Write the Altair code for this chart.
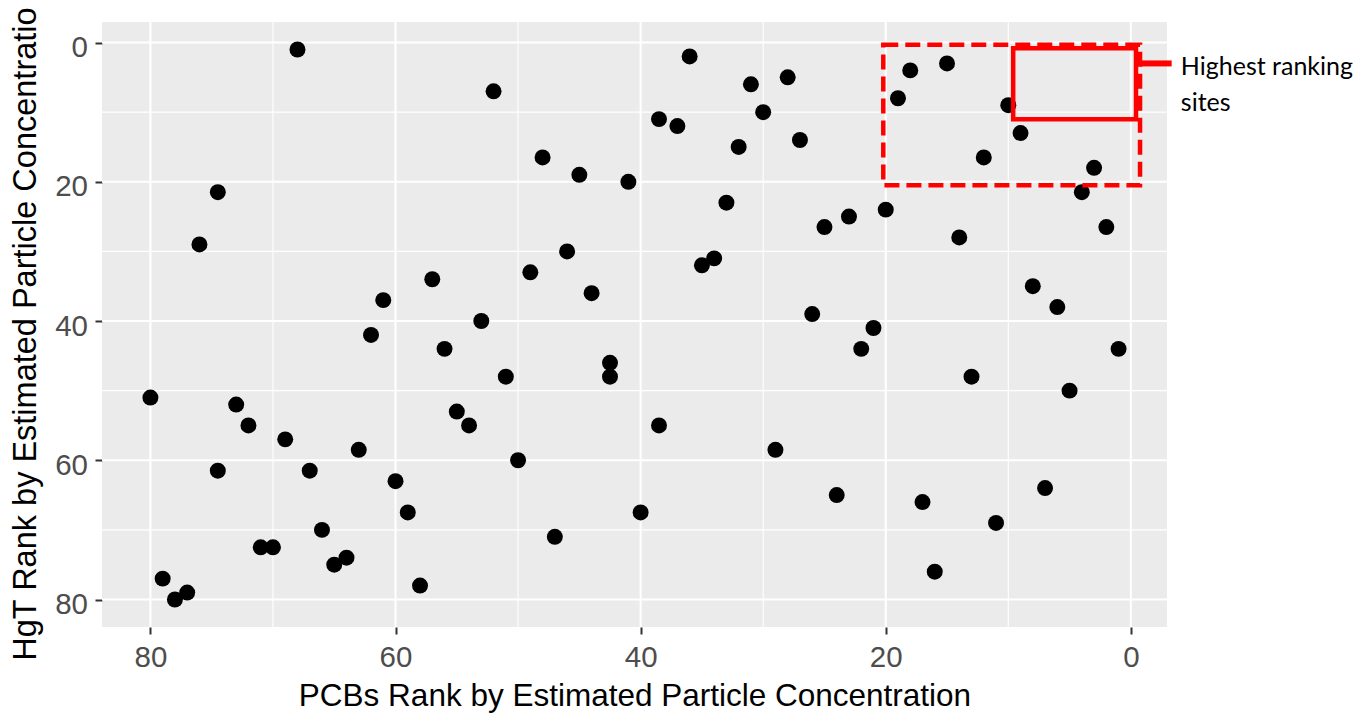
import altair as alt
import pandas as pd

# ---- data ----
PCB_RANK = [80, 79, 78, 77, 76, 74.5, 74.5, 73, 72, 71, 70, 69, 68, 67, 66, 65, 64, 63, 62, 61,
            60, 59, 58, 57, 56, 55, 54, 53, 52, 51, 50, 49, 48, 47, 46, 45, 44, 42.5, 42.5, 41,
            40, 38.5, 38.5, 37, 36, 35, 34, 33, 32, 31, 30, 29, 28, 27, 26, 25, 24, 23, 22, 21,
            20, 19, 18, 17, 16, 15, 14, 13, 12, 11, 10, 9, 8, 7, 6, 5, 4, 3, 2, 1]
HGT_RANK = [51, 77, 80, 79, 29, 21.5, 61.5, 52, 55, 72.5, 72.5, 57, 1, 61.5, 70, 75, 74, 58.5, 42, 37,
            63, 67.5, 78, 34, 44, 53, 55, 40, 7, 48, 60, 33, 16.5, 71, 30, 19, 36, 46, 48, 20,
            67.5, 11, 55, 12, 2, 32, 31, 23, 15, 6, 10, 58.5, 5, 14, 39, 26.5, 65, 25, 44, 41,
            24, 8, 4, 66, 76, 3, 28, 48, 16.5, 69, 9, 13, 35, 64, 38, 50, 21.5, 18, 26.5, 44]

MAJOR_BREAKS = [0, 20, 40, 60, 80]
MINOR_BREAKS = [10, 30, 50, 70]

X_TITLE = "PCBs Rank by Estimated Particle Concentration"
Y_TITLE = "HgT Rank by Estimated Particle Concentration"
ANNOT_TEXT = "Highest ranking\nsites"

# annotation boxes in data units (x1, x2, y1, y2)
OUTER_BOX = [20.2, -0.75, 0.3, 20.5]
INNER_BOX = [9.6, -0.42, 0.83, 11.03]
CONNECTOR = [-0.75, -3.33, 3.0]
ANNOT_POS = [-4.08, 4.67]

DOMAIN = [-2.95, 83.95]

points_df = pd.DataFrame({"pcb": PCB_RANK, "hgt": HGT_RANK})
major_df = pd.DataFrame({"v": MAJOR_BREAKS})
minor_df = pd.DataFrame({"v": MINOR_BREAKS})
one = pd.DataFrame({"d": [0]})

xs = alt.Scale(domain=DOMAIN, reverse=True, nice=False, zero=False)
ys = alt.Scale(domain=DOMAIN, reverse=True, nice=False, zero=False)

FONT = "Liberation Sans"

x_axis = alt.Axis(
    title=X_TITLE, values=MAJOR_BREAKS, grid=False, domain=False,
    tickColor="#333333", tickWidth=2, tickSize=7,
    labelFont=FONT, labelFontSize=29.5, labelColor="#4D4D4D", labelPadding=9,
    labelFlush=False, labelOverlap=False,
    titleFont=FONT, titleFontSize=31.5, titleFontWeight="normal", titleColor="black",
    titleBaseline="alphabetic", titleAlign="center", titleX=532.5, titleY=78.5,
)
y_axis = alt.Axis(
    title=Y_TITLE, values=MAJOR_BREAKS, grid=False, domain=False,
    tickColor="#333333", tickWidth=2, tickSize=7,
    labelFont=FONT, labelFontSize=29.5, labelColor="#4D4D4D", labelPadding=7.5,
    labelBaseline="middle", labelOffset=5, labelFlush=False, labelOverlap=False,
    titleFont=FONT, titleFontSize=32.5, titleFontWeight="normal", titleColor="black",
    titleBaseline="alphabetic", titleAlign="center", titleAngle=270,
    titleX=-66.5, titleY=302.5,
)

minor_x = alt.Chart(minor_df).mark_rule(color="white", strokeWidth=1.1).encode(
    x=alt.X("v:Q", scale=xs, axis=x_axis))
minor_y = alt.Chart(minor_df).mark_rule(color="white", strokeWidth=1.1).encode(
    y=alt.Y("v:Q", scale=ys, axis=y_axis))
major_x = alt.Chart(major_df).mark_rule(color="white", strokeWidth=2.1).encode(
    x=alt.X("v:Q", scale=xs, axis=x_axis))
major_y = alt.Chart(major_df).mark_rule(color="white", strokeWidth=2.1).encode(
    y=alt.Y("v:Q", scale=ys, axis=y_axis))

points = alt.Chart(points_df).mark_circle(size=255, color="black", opacity=1).encode(
    x=alt.X("pcb:Q", scale=xs, axis=x_axis),
    y=alt.Y("hgt:Q", scale=ys, axis=y_axis),
)

outer = alt.Chart(one).mark_rect(
    fillOpacity=0, stroke="#FF0000", strokeWidth=4.5, strokeDash=[15, 7]
).encode(
    x=alt.XDatum(OUTER_BOX[0], scale=xs, axis=x_axis), x2=alt.X2Datum(OUTER_BOX[1]),
    y=alt.YDatum(OUTER_BOX[2], scale=ys, axis=y_axis), y2=alt.Y2Datum(OUTER_BOX[3]),
)
inner = alt.Chart(one).mark_rect(
    fillOpacity=0, stroke="#FF0000", strokeWidth=4.5
).encode(
    x=alt.XDatum(INNER_BOX[0], scale=xs, axis=x_axis), x2=alt.X2Datum(INNER_BOX[1]),
    y=alt.YDatum(INNER_BOX[2], scale=ys, axis=y_axis), y2=alt.Y2Datum(INNER_BOX[3]),
)
connector = alt.Chart(one).mark_rule(color="#FF0000", strokeWidth=6).encode(
    x=alt.XDatum(CONNECTOR[0], scale=xs, axis=x_axis), x2=alt.X2Datum(CONNECTOR[1]),
    y=alt.YDatum(CONNECTOR[2], scale=ys, axis=y_axis),
)
label = alt.Chart(one).mark_text(
    text=ANNOT_TEXT, lineBreak="\n", lineHeight=35.7, align="left", baseline="alphabetic",
    font="Lato", fontSize=25, color="black",
).encode(
    x=alt.XDatum(ANNOT_POS[0], scale=xs, axis=x_axis),
    y=alt.YDatum(ANNOT_POS[1], scale=ys, axis=y_axis),
)

chart = alt.layer(
    minor_x, minor_y, major_x, major_y, points, outer, inner, connector, label
).properties(
    width=1065, height=605,
    autosize=alt.AutoSizeParams(type="none"),
    padding={"left": 94, "top": 14, "right": 190, "bottom": 88},
    background="white",
).configure_view(fill="#EBEBEB", strokeWidth=0)

chart.save("out.html", embed_options={"renderer": "svg", "actions": False})
